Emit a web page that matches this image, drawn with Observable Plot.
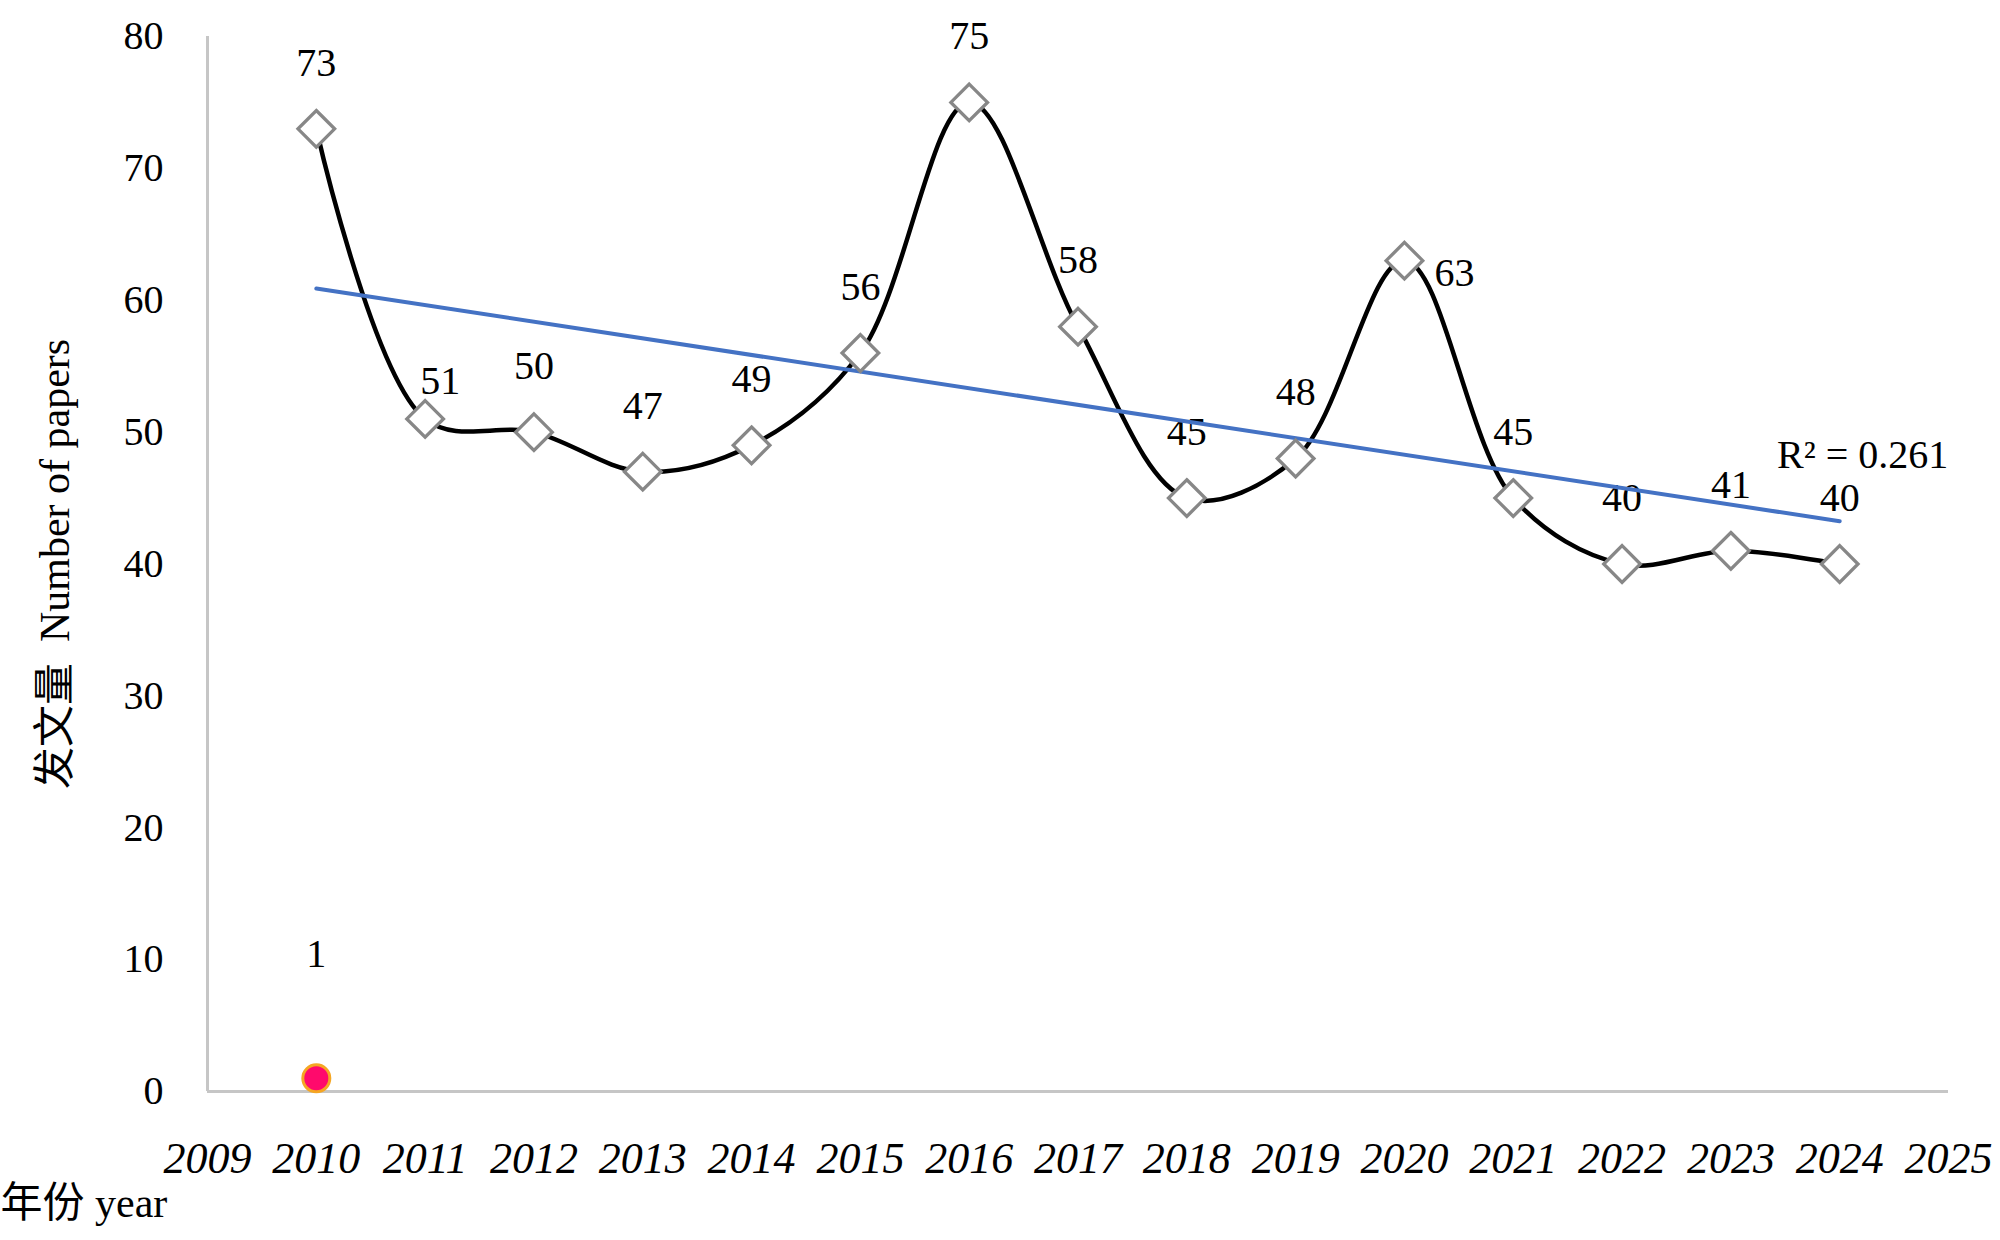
<!DOCTYPE html>
<html><head><meta charset="utf-8">
<script src="https://cdn.jsdelivr.net/npm/d3@7"></script>
<script src="https://cdn.jsdelivr.net/npm/@observablehq/plot@0.6"></script>
<style>
html,body{margin:0;padding:0;background:#fff;}
#chart svg{display:block;}
g[aria-label="x-axis tick label"]{font-style:italic;font-size:44px;}
</style></head><body>
<div id="chart"></div>
<script>
const years = [2010, 2011, 2012, 2013, 2014, 2015, 2016, 2017, 2018, 2019, 2020, 2021, 2022, 2023, 2024];
const papers = [73, 51, 50, 47, 49, 56, 75, 58, 45, 48, 63, 45, 40, 41, 40];
const extraYears = [2010];
const extraValues = [1];
const xTicks = [2009, 2010, 2011, 2012, 2013, 2014, 2015, 2016, 2017, 2018, 2019, 2020, 2021, 2022, 2023, 2024, 2025];
const yTicks = [0, 10, 20, 30, 40, 50, 60, 70, 80];
const yTitle = "发文量  Number of papers";
const xTitle = "年份 year";

const data = years.map((year, i) => ({year, value: papers[i]}));
const extra = extraYears.map((year, i) => ({year, value: extraValues[i]}));

// linear fit for the R² annotation
const mx = d3.mean(data, d => d.year), my = d3.mean(data, d => d.value);
const sxy = d3.sum(data, d => (d.year - mx) * (d.value - my));
const sxx = d3.sum(data, d => (d.year - mx) ** 2);
const syy = d3.sum(data, d => (d.value - my) ** 2);
const slope = sxy / sxx;
const r2 = (sxy * sxy) / (sxx * syy);
const lastYear = d3.max(years);
const fitEnd = [{year: lastYear, value: my + slope * (lastYear - mx), label: "R² = " + r2.toFixed(3)}];

const font = '"Liberation Serif","Noto Sans CJK SC",serif';
const plainLabels = data.filter(d => d.year !== 2011 && d.year !== 2020);

const chart = Plot.plot({
  width: 2000,
  height: 1240,
  marginLeft: 207,
  marginRight: 52,
  marginTop: 36,
  marginBottom: 149,
  style: {fontFamily: font, fontSize: "40px", color: "#000", background: "#fff"},
  x: {domain: [2009, 2025], ticks: xTicks, tickFormat: "d", tickSize: 0, tickPadding: 50, label: null},
  y: {domain: [0, 80], ticks: yTicks, tickSize: 0, tickPadding: 44, label: null},
  marks: [
    Plot.ruleY([0], {stroke: "#c6c6c6", strokeWidth: 3}),
    Plot.ruleX([2009], {stroke: "#c6c6c6", strokeWidth: 3}),
    Plot.text([yTitle], {frameAnchor: "left", text: d => d, rotate: -90, textAnchor: "middle", dx: -152, fontSize: 42}),
    Plot.text([xTitle], {frameAnchor: "bottom-left", text: d => d, textAnchor: "start", dx: -207, dy: 125, fontSize: 42}),
    Plot.text(plainLabels, {x: "year", y: "value", text: d => String(d.value), dy: -66, fontSize: 40}),
    Plot.text(data.filter(d => d.year === 2011), {x: "year", y: "value", text: d => String(d.value), dx: 15, dy: -38, fontSize: 40}),
    Plot.text(data.filter(d => d.year === 2020), {x: "year", y: "value", text: d => String(d.value), dx: 50, dy: 12, fontSize: 40}),
    Plot.text(extra, {x: "year", y: "value", text: d => String(d.value), dy: -124, fontSize: 40}),
    Plot.line(data, {x: "year", y: "value", curve: "catmull-rom", stroke: "#000", strokeWidth: 4.5}),
    Plot.linearRegressionY(data, {x: "year", y: "value", stroke: "#4472c4", strokeWidth: 4, ci: 0}),
    Plot.text(fitEnd, {x: "year", y: "value", text: "label", dx: 23, dy: -66, fontSize: 40}),
    Plot.dot(data, {x: "year", y: "value", symbol: "diamond2", r: 16.5, fill: "#fff", stroke: "#878787", strokeWidth: 3.3}),
    Plot.dot(extra, {x: "year", y: "value", r: 13.5, fill: "#ff0a6c", stroke: "#f5a623", strokeWidth: 3})
  ]
});
document.getElementById("chart").appendChild(chart);
</script>
</body></html>
